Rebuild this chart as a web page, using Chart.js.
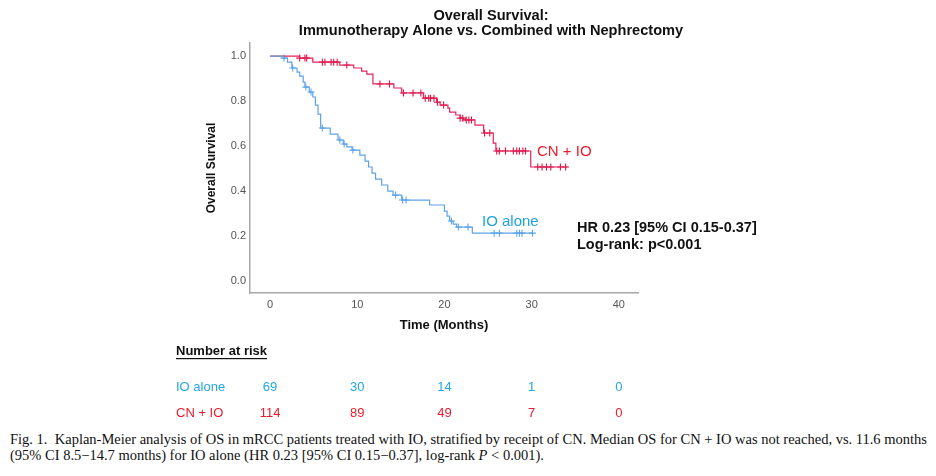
<!DOCTYPE html>
<html lang="en">
<head>
<meta charset="UTF-8">
<title>Overall Survival KM</title>
<script src="https://cdn.jsdelivr.net/npm/chart.js"></script>
<style>
    body { margin: 0; padding: 0; background: #fff; }
    .wrap { position: relative; width: 936px; height: 476px; overflow: hidden; }
    #km { position: absolute; left: 0; top: 0; }
    .caption {
        position: absolute; left: 10px; top: 431px;
        font-family: "Liberation Serif", "Times New Roman", serif;
        font-size: 14.5px; line-height: 16px; color: #111;
        white-space: nowrap;
    }
</style>
</head>
<body>
<div class="wrap">
    <canvas id="km" width="936" height="428"></canvas>
    <div class="caption" id="cap">Fig. 1.&nbsp; Kaplan-Meier analysis of OS in mRCC patients treated with IO, stratified by receipt of CN. Median OS for CN + IO was not reached, vs. 11.6 months<br>(95% CI 8.5−14.7 months) for IO alone (HR 0.23 [95% CI 0.15−0.37], log-rank <i>P</i> &lt; 0.001).</div>
</div>
<script>
// time axis ticks (months)
const tickMonths = [0, 10, 20, 30, 40];
const survTicks = [0, 0.2, 0.4, 0.6, 0.8, 1.0];

// IO alone: step times and survival after each step
const ioTime = [0, 1.5, 2.0, 2.5, 3.1, 3.4, 3.8, 4.0, 4.5, 4.9, 5.2, 5.5, 5.8, 6.9, 7.8, 8.4, 8.8, 9.4,
                10.3, 10.9, 11.3, 11.7, 12.1, 12.8, 13.5, 14.1, 15.1, 18.3, 20.0, 20.3, 20.6, 21.0, 21.4, 23.2, 30.1];
const ioSurv = [1.0, 0.991, 0.973, 0.947, 0.929, 0.911, 0.884, 0.862, 0.840, 0.818, 0.782, 0.742, 0.680, 0.653, 0.627, 0.609, 0.596, 0.582,
                0.560, 0.533, 0.507, 0.480, 0.453, 0.427, 0.400, 0.382, 0.360, 0.338, 0.311, 0.289, 0.267, 0.253, 0.240, 0.213, 0.213];
const ioCensor = [1.6, 2.6, 4.1, 4.7, 6.0, 8.0, 8.5, 9.5, 14.4, 15.2, 15.6, 20.8, 21.6, 22.7, 25.7, 26.3, 28.3, 28.6, 28.9, 30.1];

// CN + IO
const cnTime = [0, 3.4, 4.9, 8.0, 9.6, 10.5, 11.1, 11.8, 14.2, 15.1, 17.6, 19.1, 19.5, 20.4, 20.6, 21.3, 21.8, 22.2,
                23.5, 24.5, 25.6, 25.9, 29.9, 34.1];
const cnSurv = [1.0, 0.991, 0.973, 0.960, 0.947, 0.933, 0.920, 0.876, 0.858, 0.836, 0.813, 0.795, 0.782, 0.769, 0.751, 0.738, 0.724, 0.716,
                0.693, 0.658, 0.613, 0.578, 0.507, 0.507];
const cnCensor = [3.4, 4.0, 4.2, 6.0, 6.3, 7.0, 7.3, 7.7, 8.8, 12.6, 13.7, 15.3, 16.4, 17.3, 17.8, 18.2, 18.4, 18.8, 19.2, 19.9,
                  21.8, 22.1, 22.5, 22.8, 23.1, 24.6, 25.2, 26.0, 26.3, 27.0, 27.9, 28.3, 28.6, 29.0, 29.3,
                  30.7, 31.2, 31.7, 32.2, 33.3, 33.9];

// number at risk
const riskIO = [69, 30, 14, 1, 0];
const riskCN = [114, 89, 49, 7, 0];

const RED = '#e3245a';
const BLUE = '#5ea4e8';
const FONT = '"Liberation Sans", Arial, sans-serif';

function curve(times, survs) {
    return times.map((t, i) => ({ x: t, y: survs[i] }));
}
// survival level of the step curve at time t
function levelAt(times, survs, t) {
    let s = survs[0];
    for (let i = 0; i < times.length; i++) {
        if (times[i] <= t) s = survs[i];
    }
    return s;
}
function censorPts(cens, times, survs) {
    return cens.map(t => ({ x: t, y: levelAt(times, survs, t) }));
}

const textPlugin = {
    id: 'kmText',
    afterDraw(chart) {
        const ctx = chart.ctx;
        const xs = chart.scales.x;
        ctx.save();
        ctx.textBaseline = 'middle';

        // title
        ctx.fillStyle = '#111';
        ctx.textAlign = 'center';
        ctx.font = 'bold 14.6px ' + FONT;
        ctx.fillText('Overall Survival:', 491, 16);
        ctx.fillText('Immunotherapy Alone vs. Combined with Nephrectomy', 491, 31);

        // curve labels
        ctx.textAlign = 'left';
        ctx.font = '15px ' + FONT;
        ctx.fillStyle = '#ee1d2e';
        ctx.fillText('CN + IO', 537, 152);
        ctx.fillStyle = '#1fa2e2';
        ctx.fillText('IO alone', 482, 222);

        // HR text
        ctx.fillStyle = '#111';
        ctx.font = 'bold 14.5px ' + FONT;
        ctx.fillText('HR 0.23 [95% CI 0.15-0.37]', 577, 228);
        ctx.fillText('Log-rank: p<0.001', 577, 245);

        // number at risk table
        ctx.font = 'bold 13px ' + FONT;
        ctx.fillStyle = '#111';
        ctx.fillText('Number at risk', 176, 351);
        const w = ctx.measureText('Number at risk').width;
        ctx.fillRect(176, 358, w, 1.2);

        ctx.font = '13px ' + FONT;
        ctx.fillStyle = '#22a6e4';
        ctx.fillText('IO alone', 176, 387);
        ctx.fillStyle = '#ea1b2b';
        ctx.fillText('CN + IO', 176, 413);
        ctx.textAlign = 'center';
        tickMonths.forEach((m, i) => {
            const px = xs.getPixelForValue(m);
            ctx.fillStyle = '#22a6e4';
            ctx.fillText(String(riskIO[i]), px, 387);
            ctx.fillStyle = '#ea1b2b';
            ctx.fillText(String(riskCN[i]), px, 413);
        });
        ctx.restore();
    }
};

const ctx = document.getElementById('km').getContext('2d');
new Chart(ctx, {
    type: 'scatter',
    data: {
        datasets: [
            { label: 'IO alone', data: curve(ioTime, ioSurv), showLine: true, stepped: true,
              borderColor: BLUE, borderWidth: 1.2, pointRadius: 0 },
            { label: 'CN + IO', data: curve(cnTime, cnSurv), showLine: true, stepped: true,
              borderColor: RED, borderWidth: 1.2, pointRadius: 0 },
            { label: 'IO censored', data: censorPts(ioCensor, ioTime, ioSurv), showLine: false,
              pointStyle: 'cross', pointRadius: 3.5, borderColor: BLUE, borderWidth: 1.1, backgroundColor: BLUE },
            { label: 'CN censored', data: censorPts(cnCensor, cnTime, cnSurv), showLine: false,
              pointStyle: 'cross', pointRadius: 3.5, borderColor: '#dd1144', borderWidth: 1.1, backgroundColor: RED }
        ]
    },
    options: {
        responsive: false,
        animation: false,
        layout: { padding: { left: 200, right: 298, top: 43, bottom: 91 } },
        plugins: { legend: { display: false }, title: { display: false }, tooltip: { enabled: false } },
        scales: {
            x: {
                type: 'linear', min: -2.3, max: 42.2,
                afterBuildTicks: s => { s.ticks = tickMonths.map(v => ({ value: v })); },
                afterFit: s => { s.height = 44; },
                grid: { display: false, drawTicks: false },
                border: { display: true, color: '#a8a8a8', width: 1.5 },
                ticks: { color: '#555', font: { family: FONT, size: 11 }, padding: 5 },
                title: { display: true, text: 'Time (Months)', color: '#111',
                         font: { family: FONT, size: 13, weight: 'bold' }, padding: { top: 4, bottom: 4 } }
            },
            y: {
                type: 'linear', min: -0.053, max: 1.058,
                afterBuildTicks: s => { s.ticks = survTicks.map(v => ({ value: v })); },
                afterFit: s => { s.width = 50; },
                grid: { display: false, drawTicks: false },
                border: { display: true, color: '#a8a8a8', width: 1.5 },
                ticks: { color: '#555', font: { family: FONT, size: 11 }, padding: 4,
                         callback: v => Number(v).toFixed(1) },
                title: { display: true, text: 'Overall Survival', color: '#111',
                         font: { family: FONT, size: 12, weight: 'bold' }, padding: { top: 4, bottom: 4 } }
            }
        }
    },
    plugins: [textPlugin]
});
</script>
</body>
</html>
